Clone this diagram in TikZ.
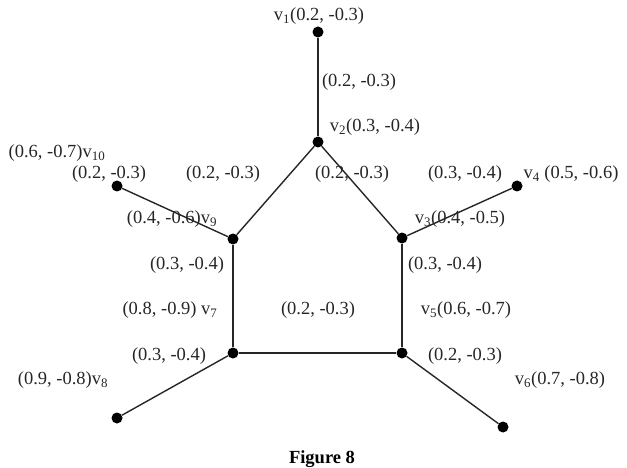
\documentclass[tikz,border=0pt]{standalone}
\usepackage{fontspec}
\setmainfont{Liberation Serif}
\begin{document}
\begin{tikzpicture}[x=1pt,y=-1pt,
  vtx/.style={circle,fill=black,inner sep=0pt,minimum size=11pt},
  lbl/.style={inner sep=0pt,text=black!85,font=\fontsize{18.5}{22}\selectfont},
  edge/.style={draw=black!85,line width=1.4pt}]
\useasboundingbox (0,0) rectangle (627,468);
% vertices
\node[vtx] (v1) at (318,32) {};
\node[vtx] (v2) at (318,142) {};
\node[vtx] (v3) at (402,238) {};
\node[vtx] (v4) at (517,186) {};
\node[vtx] (v5) at (402,353) {};
\node[vtx] (v6) at (503,427) {};
\node[vtx] (v7) at (233,353) {};
\node[vtx] (v8) at (117,418) {};
\node[vtx] (v9) at (233,239) {};
\node[vtx] (v10) at (117,186) {};
% edges
\draw[edge] (v1) -- (v2);
\draw[edge] (v2) -- (v9);
\draw[edge] (v2) -- (v3);
\draw[edge] (v9) -- (v10);
\draw[edge] (v3) -- (v4);
\draw[edge] (v9) -- (v7);
\draw[edge] (v3) -- (v5);
\draw[edge] (v7) -- (v5);
\draw[edge] (v7) -- (v8);
\draw[edge] (v5) -- (v6);
% labels
\node[lbl] (l1) at (319,16) {v\textsubscript{1}(0.2, -0.3)};
\node[lbl] (l2) at (359,82) {(0.2, -0.3)};
\node[lbl] (l3) at (375,127) {v\textsubscript{2}(0.3, -0.4)};
\node[lbl] (l4) at (57,153) {(0.6, -0.7)v\textsubscript{10}};
\node[lbl] (l5) at (109,174) {(0.2, -0.3)};
\node[lbl] (l6) at (223,174) {(0.2, -0.3)};
\node[lbl] (l7) at (352,174) {(0.2, -0.3)};
\node[lbl] (l8) at (465,174) {(0.3, -0.4)};
\node[lbl] (l9) at (571,174) {v\textsubscript{4} (0.5, -0.6)};
\node[lbl] (l10) at (172,219) {(0.4, -0.6)v\textsubscript{9}};
\node[lbl] (l11) at (460,219) {v\textsubscript{3}(0.4, -0.5)};
\node[lbl] (l12) at (187,265) {(0.3, -0.4)};
\node[lbl] (l13) at (445,265) {(0.3, -0.4)};
\node[lbl] (l14) at (170,310) {(0.8, -0.9) v\textsubscript{7}};
\node[lbl] (l15) at (318,310) {(0.2, -0.3)};
\node[lbl] (l16) at (466,310) {v\textsubscript{5}(0.6, -0.7)};
\node[lbl] (l17) at (169,356) {(0.3, -0.4)};
\node[lbl] (l18) at (465,356) {(0.2, -0.3)};
\node[lbl] (l19) at (63,380) {(0.9, -0.8)v\textsubscript{8}};
\node[lbl] (l20) at (560,380) {v\textsubscript{6}(0.7, -0.8)};
\node[lbl,text=black,font=\fontsize{18.5}{22}\selectfont\bfseries] (cap) at (322,459) {Figure 8};
\end{tikzpicture}
\end{document}
